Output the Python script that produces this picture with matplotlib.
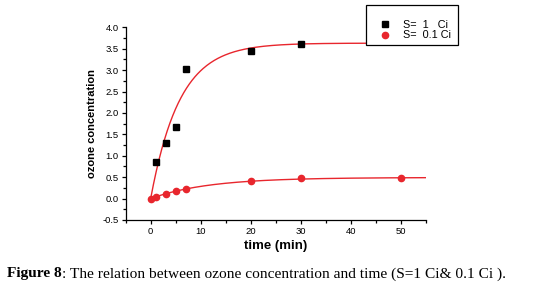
import numpy as np
import matplotlib.pyplot as plt
from matplotlib.ticker import MultipleLocator

t_1ci = [1, 3, 5, 7, 20, 30]
c_1ci = [0.85, 1.30, 1.68, 3.03, 3.45, 3.60]
t_01ci = [0, 1, 3, 5, 7, 20, 30, 50]
c_01ci = [0.0, 0.04, 0.11, 0.17, 0.22, 0.40, 0.48, 0.47]

labels = ['S=  1   Ci', 'S=  0.1 Ci ']
caption_bold = 'Figure 8'
caption_rest = ': The relation between ozone concentration and time (S=1 Ci& 0.1 Ci ).'


def fit_saturation(t, c):
    # least squares fit of c = A*(1 - exp(-t/tau)), through the origin
    t = np.array([0] + list(t), dtype=float)
    c = np.array([0] + list(c), dtype=float)
    best = None
    for tau in np.linspace(0.5, 40, 800):
        g = 1 - np.exp(-t / tau)
        A = (g @ c) / (g @ g)
        err = np.sum((c - A * g) ** 2)
        if best is None or err < best[0]:
            best = (err, A, tau)
    return best[1], best[2]


plt.rcParams['font.family'] = ['Liberation Sans', 'DejaVu Sans']

fig = plt.figure(figsize=(5.44, 2.92), dpi=100)
ax = fig.add_axes([0.231, 0.2466, 0.5515, 0.66])

red = '#e8262d'
tt = np.linspace(0, 55, 300)
A1, tau1 = fit_saturation(t_1ci, c_1ci)
A2, tau2 = fit_saturation(t_01ci[1:], c_01ci[1:])
ax.plot(tt, A1 * (1 - np.exp(-tt / tau1)), color=red, lw=1.0, zorder=2)
ax.plot(tt, A2 * (1 - np.exp(-tt / tau2)), color=red, lw=1.0, zorder=2)

h1, = ax.plot(t_1ci, c_1ci, 's', color='black', ms=4.5, ls='none', zorder=3)
h2, = ax.plot(t_01ci, c_01ci, 'o', color=red, ms=4.5, ls='none', zorder=3)

ax.set_xlim(-5, 55)
ax.set_ylim(-0.5, 4.0)
ax.xaxis.set_minor_locator(MultipleLocator(5))
ax.yaxis.set_minor_locator(MultipleLocator(0.25))
yt = np.arange(-0.5, 4.01, 0.5)
ax.set_yticks(yt)
ax.set_yticklabels(['%.1f' % v for v in yt])
ax.set_xticks([0, 10, 20, 30, 40, 50])
ax.tick_params(which='major', direction='out', length=3, width=0.9, labelsize=6.8, pad=2)
ax.tick_params(which='minor', direction='out', length=2, width=0.9)
for s in ['top', 'right']:
    ax.spines[s].set_visible(False)
for s in ['left', 'bottom']:
    ax.spines[s].set_linewidth(0.9)

ax.set_xlabel('time (min)', fontsize=9.5, fontweight='bold', labelpad=3)
ax.set_ylabel('ozone concentration', fontsize=8, fontweight='bold', labelpad=4)

# empty title gives the extra space above the entries
leg = fig.legend([h1, h2], labels, loc='upper left', bbox_to_anchor=(0.673, 0.983),
                 borderaxespad=0, fontsize=7.8, frameon=True, fancybox=False,
                 framealpha=1, edgecolor='black', handletextpad=0.3, borderpad=0.4,
                 labelspacing=0.05, handlelength=2.7, title=' ', title_fontsize=7)
leg.get_frame().set_linewidth(0.9)

serif = ['Liberation Serif', 'DejaVu Serif']
t1 = fig.text(0.013, 0.05, caption_bold, fontsize=11.1, fontweight='bold', family=serif)
fig.canvas.draw()
bb = t1.get_window_extent().transformed(fig.transFigure.inverted())
fig.text(bb.x1, 0.05, caption_rest, fontsize=11.1, family=serif)

fig.savefig('out.png', dpi=100)
